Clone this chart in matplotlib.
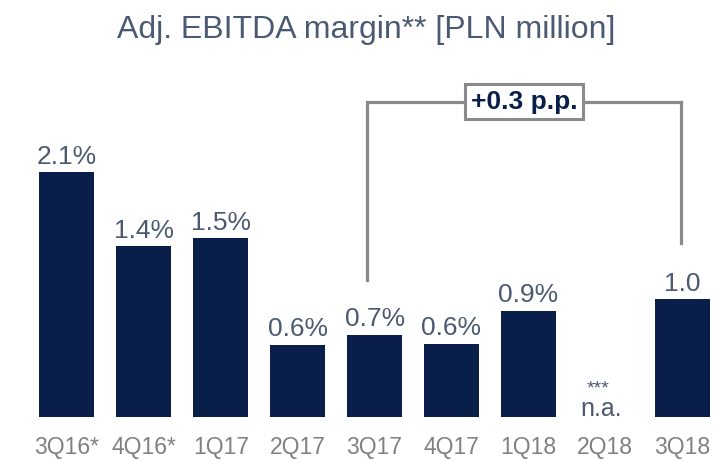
import matplotlib
matplotlib.use("Agg")
import matplotlib.pyplot as plt
import numpy as np

# data
quarters = ["3Q16*", "4Q16*", "1Q17", "2Q17", "3Q17", "4Q17", "1Q18", "2Q18", "3Q18"]
margin = [2.08, 1.45, 1.52, 0.61, 0.70, 0.62, 0.90, np.nan, 1.00]
margin_labels = ["2.1%", "1.4%", "1.5%", "0.6%", "0.7%", "0.6%", "0.9%", "", "1.0"]
na_label = "n.a."
na_note = "***"
change_text = "+0.3 p.p."

bar_color = "#091E48"
text_color = "#4B5A72"
tick_color = "#808080"
line_color = "#8A8A8A"

plt.rcParams['font.family'] = ['Liberation Sans', 'DejaVu Sans']

fig = plt.figure(figsize=(7.18, 4.61), dpi=100)
ax = fig.add_axes([0, 0.0961, 1, 0.9039])

x = np.arange(len(quarters))
heights = np.nan_to_num(margin)
ax.bar(x, heights, width=0.715, color=bar_color)

ax.set_xlim(-0.871, 8.466)
ax.set_ylim(0, 3.549)

# value labels above bars
for i, (v, lab) in enumerate(zip(margin, margin_labels)):
    if np.isnan(v):
        continue
    ax.annotate(lab, (x[i], v), xytext=(0, 6.2), textcoords="offset points",
                ha="center", va="baseline", fontsize=19, color=text_color)

# n.a. marker for missing quarter
na_idx = int(np.where(np.isnan(margin))[0][0])
ax.annotate(na_label, (x[na_idx] - 0.05, 0), xytext=(0, 0.8), textcoords="offset points",
            ha="center", va="baseline", fontsize=18, color=text_color)
ax.annotate(na_note, (x[na_idx] - 0.09, 0), xytext=(0, 17), textcoords="offset points",
            ha="center", va="baseline", fontsize=14, color=text_color)

# bracket between 3Q17 and 3Q18
i0, i1 = quarters.index("3Q17"), quarters.index("3Q18")
xl, xr = x[i0] - 0.10, x[i1] - 0.015
y_top = 2.683
ax.plot([xl, xl, xr, xr], [margin[i0] + 0.46, y_top, y_top, margin[i1] + 0.48],
        color=line_color, lw=2.3, solid_joinstyle="miter", zorder=2)
ax.text((xl + xr) / 2, y_top, change_text, ha="center", va="center",
        fontsize=19, fontweight="bold", color=bar_color, zorder=3,
        bbox=dict(boxstyle="square,pad=0.22", fc="white", ec=line_color, lw=2.2))

ax.set_xticks(x)
ax.set_xticklabels(quarters, fontsize=16.5, color=tick_color)
ax.tick_params(axis="x", length=0, pad=14)
ax.set_yticks([])
for s in ax.spines.values():
    s.set_visible(False)

fig.text(366 / 718, 1 - 38 / 461, "Adj. EBITDA margin** [PLN million]",
         ha="center", va="baseline", fontsize=23, color=text_color)

fig.savefig("out.png", dpi=100)
